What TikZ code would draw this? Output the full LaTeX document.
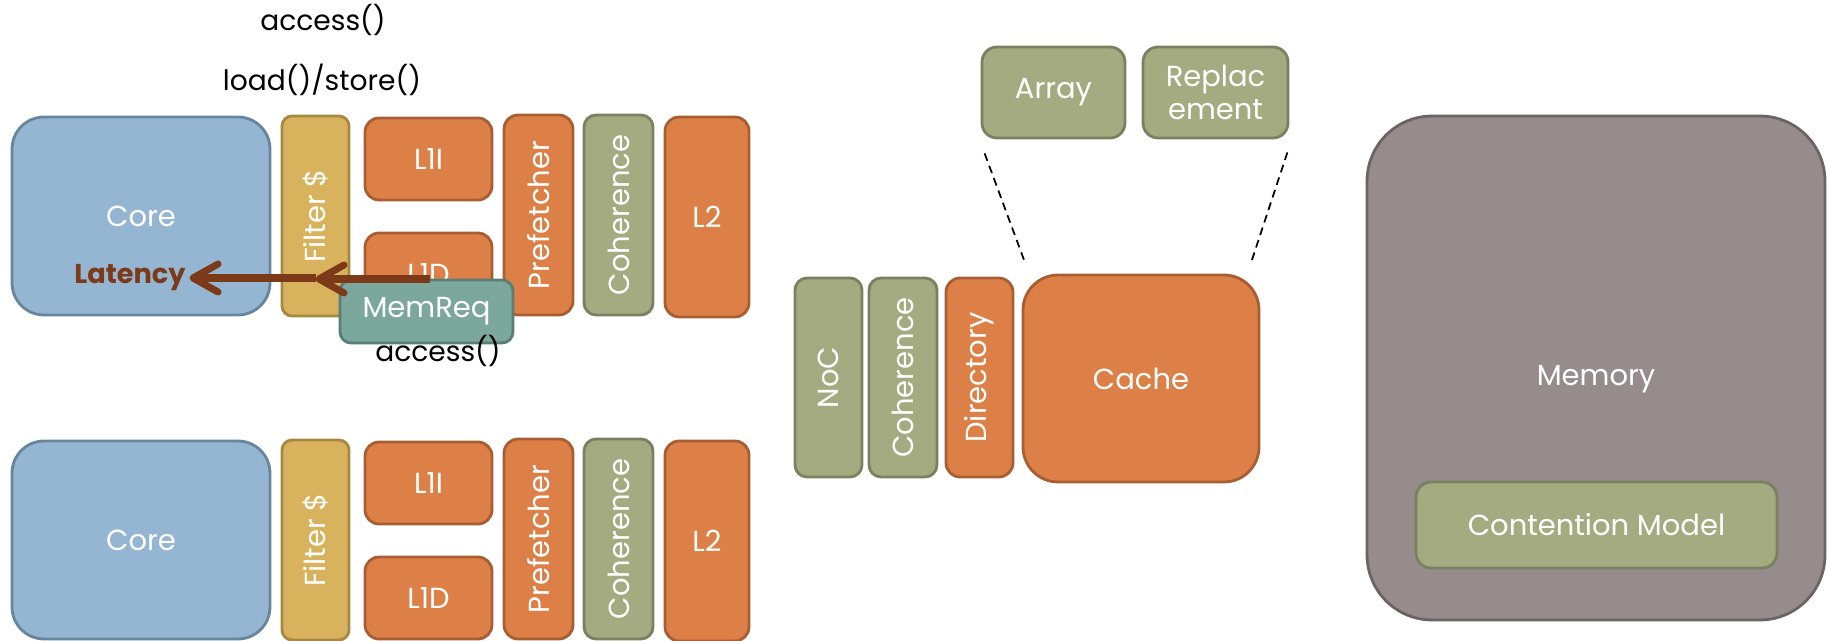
\documentclass[tikz,border=0pt]{standalone}
\usepackage{fontspec}
\setmainfont{Poppins}
\usetikzlibrary{arrows.meta, positioning}

\definecolor{coreblue}{RGB}{148,182,210}
\definecolor{coreedge}{RGB}{104,133,158}
\definecolor{filtyellow}{RGB}{216,178,92}
\definecolor{filtedge}{RGB}{166,136,66}
\definecolor{cacheorange}{RGB}{221,128,71}
\definecolor{cacheedge}{RGB}{168,94,50}
\definecolor{ctrlgreen}{RGB}{165,171,129}
\definecolor{ctrledge}{RGB}{122,128,96}
\definecolor{reqteal}{RGB}{123,167,157}
\definecolor{reqedge}{RGB}{88,126,117}
\definecolor{memgrey}{RGB}{150,140,140}
\definecolor{memedge}{RGB}{108,100,100}
\definecolor{latbrown}{RGB}{124,58,24}

\tikzset{
  blk/.style = {draw, line width=1.6pt, inner sep=0pt, align=center, text=white,
    font=\fontsize{16.5}{19}\selectfont},
  hw/.style 2 args = {blk, minimum width=#1, minimum height=#2},
  corebox/.style = {fill=coreblue, draw=coreedge, rounded corners=0.64cm},
  filtbox/.style = {fill=filtyellow, draw=filtedge, rounded corners=0.2cm},
  cachebox/.style = {fill=cacheorange, draw=cacheedge, rounded corners=0.28cm},
  ctrlbox/.style = {fill=ctrlgreen, draw=ctrledge, rounded corners=0.24cm},
  reqbox/.style = {fill=reqteal, draw=reqedge, rounded corners=0.22cm},
  membox/.style = {fill=memgrey, draw=memedge, rounded corners=1.3cm},
  upright/.style = {rotate=90},
  boxtext/.style = {text=white, inner sep=0pt, font=\fontsize{16.5}{19}\selectfont},
  call/.style = {font=\fontsize{16}{19}\selectfont, inner sep=1pt},
  lattext/.style = {text=latbrown, font=\bfseries\fontsize{15.5}{18}\selectfont, inner sep=2pt},
  latarrow/.style = {draw=latbrown, line width=4pt,
    -{Straight Barb[length=0.5cm, width=0.56cm, round]}},
  zoomline/.style = {black, line width=1pt, dash pattern=on 4.5pt off 3pt},
}

\begin{document}
\begin{tikzpicture}[x=0.02cm, y=-0.02cm]
\useasboundingbox (0,0) rectangle (1831,641);

% first core
\node [corebox, hw={5.16cm}{3.96cm}] (core1) at (141,216) {Core};
\node [filtbox, upright, hw={4.0cm}{1.34cm}] (filt1) at (315.5,216) {Filter \$};
\node [cachebox, hw={2.54cm}{1.64cm}] (l1i1) at (428.5,159) {L1I};
\node [cachebox, hw={2.54cm}{1.64cm}] (l1d1) at (428.5,274) {L1D};
\node [cachebox, upright, hw={4.0cm}{1.38cm}] (pref1) at (538.5,215) {Prefetcher};
\node [ctrlbox, upright, hw={4.0cm}{1.38cm}] (coh1) at (618.5,215) {Coherence};
\node [cachebox, hw={1.68cm}{4.0cm}] (l2a) at (707,217) {L2};

\node [reqbox, hw={3.46cm}{1.26cm}] (req) at (426.5,311.5) {MemReq};
\node [lattext] (lat) at (130,278) {Latency};

\coordinate (reqsrc) at (430,279);
\draw [latarrow] (reqsrc) -- (filt1.center |- reqsrc);
\draw [latarrow] (filt1.center |- lat.east) -- (lat.east);

\node [call] (acc1) at (323,20) {access()};
\node [call] (ldst) at (322,80) {load()/store()};
\node [call] (acc2) at (438,351) {access()};

% second core
\node [corebox, hw={5.16cm}{3.96cm}] (core2) at (141,540) {Core};
\node [filtbox, upright, hw={4.0cm}{1.34cm}] (filt2) at (315.5,540) {Filter \$};
\node [cachebox, hw={2.54cm}{1.64cm}] (l1i2) at (428.5,483) {L1I};
\node [cachebox, hw={2.54cm}{1.64cm}] (l1d2) at (428.5,598) {L1D};
\node [cachebox, upright, hw={4.0cm}{1.38cm}] (pref2) at (538.5,539) {Prefetcher};
\node [ctrlbox, upright, hw={4.0cm}{1.38cm}] (coh2) at (618.5,539) {Coherence};
\node [cachebox, hw={1.68cm}{4.0cm}] (l2b) at (707,541) {L2};

% shared cache bank
\node [ctrlbox, upright, hw={3.98cm}{1.34cm}] (noc) at (828.5,377.5) {NoC};
\node [ctrlbox, upright, hw={3.98cm}{1.36cm}] (coh3) at (903,377.5) {Coherence};
\node [cachebox, upright, hw={3.98cm}{1.34cm}] (dir) at (979.5,377.5) {Directory};
\node [cachebox, hw={4.72cm}{4.14cm}, rounded corners=0.7cm] (cache) at (1141,378.5) {Cache};

\node [ctrlbox, hw={2.86cm}{1.82cm}, rounded corners=0.3cm] (array) at (1053.5,92.5) {Array};
\node [ctrlbox, hw={2.9cm}{1.82cm}, rounded corners=0.3cm] (repl) at (1215.5,92.5) {Replac\\ement};

\draw [zoomline] ([shift={(4,14)}]array.south west) -- ([shift={(3,-12)}]cache.north west);
\draw [zoomline] ([shift={(-2,13)}]repl.south east) -- ([shift={(-9,-12)}]cache.north east);

% memory
\node [membox, hw={9.16cm}{10.08cm}] (mem) at (1596,368) {};
\node [boxtext] (memlbl) at (1596,379) {Memory};
\node [ctrlbox, hw={7.22cm}{1.72cm}, rounded corners=0.3cm] (cont) at (1596.5,525) {Contention Model};
\end{tikzpicture}
\end{document}
